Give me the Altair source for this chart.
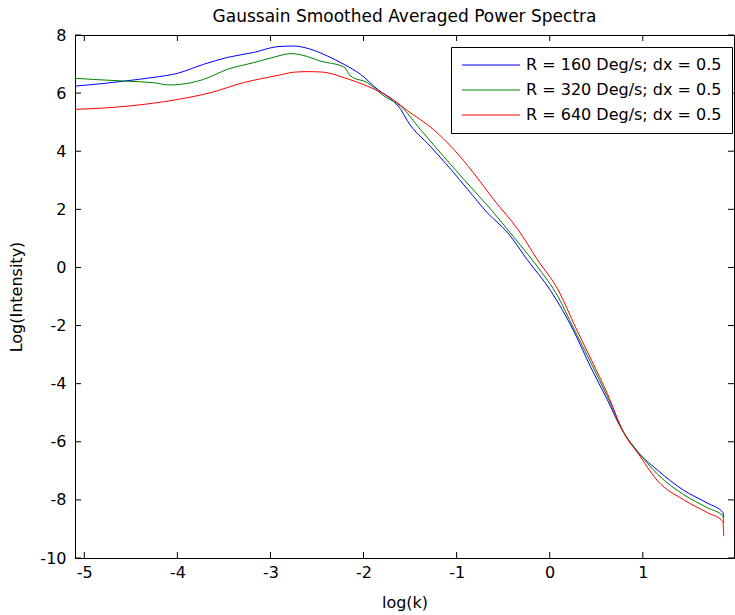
import altair as alt
import pandas as pd

# ---- data ----
labels = ["R = 160 Deg/s; dx = 0.5", "R = 320 Deg/s; dx = 0.5", "R = 640 Deg/s; dx = 0.5"]
colors = ["#0000ff", "#008000", "#ff0000"]

x_160 = [-5.10, -4.80, -4.58, -4.26, -4.00, -3.72, -3.46, -3.18, -2.92, -2.75, -2.57, -2.39,
         -2.21, -2.03, -1.85, -1.71, -1.60, -1.53, -1.28, -1.06, -0.88, -0.67, -0.45, -0.24,
         0.01, 0.26, 0.44, 0.62, 0.76, 0.90, 1.16, 1.44, 1.70, 1.86, 1.87]
y_160 = [6.24, 6.33, 6.41, 6.54, 6.68, 6.99, 7.23, 7.40, 7.60, 7.62, 7.51, 7.28,
         6.99, 6.64, 6.13, 5.80, 5.44, 5.05, 4.16, 3.37, 2.68, 1.88, 1.19, 0.26,
         -0.80, -2.20, -3.43, -4.56, -5.49, -6.18, -6.98, -7.67, -8.12, -8.43, -8.60]

x_320 = [-5.10, -4.90, -4.54, -4.26, -4.08, -3.97, -3.72, -3.46, -3.18, -2.97, -2.78, -2.65,
         -2.46, -2.21, -2.14, -1.96, -1.78, -1.60, -1.39, -1.14, -0.92, -0.63, -0.39, -0.13,
         0.09, 0.25, 0.45, 0.62, 0.80, 0.95, 1.16, 1.44, 1.70, 1.86, 1.87]
y_320 = [6.51, 6.47, 6.41, 6.36, 6.28, 6.30, 6.47, 6.82, 7.05, 7.23, 7.36, 7.30,
         7.10, 6.90, 6.59, 6.36, 5.90, 5.55, 4.75, 3.82, 3.02, 1.99, 1.06, 0.02,
         -1.01, -2.05, -3.33, -4.45, -5.70, -6.35, -7.12, -7.82, -8.28, -8.55, -8.79]

x_640 = [-5.10, -4.54, -4.00, -3.65, -3.29, -2.92, -2.75, -2.60, -2.43, -2.21, -1.96, -1.71,
         -1.53, -1.25, -1.03, -0.82, -0.60, -0.34, -0.13, 0.09, 0.28, 0.45, 0.62, 0.80,
         0.95, 1.16, 1.44, 1.70, 1.86, 1.87]
y_640 = [5.44, 5.55, 5.78, 6.01, 6.36, 6.61, 6.72, 6.74, 6.72, 6.53, 6.24, 5.84,
         5.40, 4.75, 4.06, 3.26, 2.33, 1.30, 0.26, -0.77, -2.08, -3.20, -4.35, -5.72,
         -6.40, -7.35, -8.00, -8.45, -8.74, -9.25]

x_ticks = [-5, -4, -3, -2, -1, 0, 1]
y_ticks = [-10, -8, -6, -4, -2, 0, 2, 4, 6, 8]

# ---- build tables ----
rows = []
for lab, xs, ys in zip(labels, [x_160, x_320, x_640], [y_160, y_320, y_640]):
    for i, (xv, yv) in enumerate(zip(xs, ys)):
        rows.append({"series": lab, "x": xv, "y": yv, "o": i})
df = pd.DataFrame(rows)
xt = pd.DataFrame({"v": x_ticks})
yt = pd.DataFrame({"v": y_ticks})

W, H = 659, 523
FONT = "DejaVu Sans"
xscale = alt.Scale(domain=[-5.1, 1.98], nice=False, zero=False)
yscale = alt.Scale(domain=[-10, 8], nice=False, zero=False)

lines = alt.Chart(df).mark_line(strokeWidth=1, clip=True, interpolate="monotone").encode(
    x=alt.X("x:Q", scale=xscale,
            axis=alt.Axis(title="log(k)", values=x_ticks, labelExpr="'' + datum.value",
                          ticks=False, grid=False,
                          labelPadding=6, titlePadding=14, domainColor="black")),
    y=alt.Y("y:Q", scale=yscale,
            axis=alt.Axis(title="Log(Intensity)", values=y_ticks, labelExpr="'' + datum.value",
                          ticks=False, grid=False, labelPadding=9, titlePadding=15,
                          domainColor="black")),
    color=alt.Color("series:N",
                    scale=alt.Scale(domain=labels, range=colors),
                    legend=alt.Legend(orient="none", legendX=376, legendY=12, title=None,
                                      symbolType="M-5,0H5", symbolSize=135,
                                      symbolStrokeWidth=1, symbolOffset=22, labelOffset=27,
                                      labelExpr="datum.label + '\u00a0\u00a0\u00a0'",
                                      labelFont=FONT, labelFontSize=16, labelColor="black",
                                      labelLimit=400, strokeColor="black", fillColor="white",
                                      padding=10, rowPadding=9, cornerRadius=0)),
    order="o:Q",
)

tick_len = 6
bottom_ticks = alt.Chart(xt).mark_rule(color="black", strokeWidth=1).encode(
    x=alt.X("v:Q", scale=xscale), y=alt.value(H), y2=alt.value(H - tick_len))
top_ticks = alt.Chart(xt).mark_rule(color="black", strokeWidth=1).encode(
    x=alt.X("v:Q", scale=xscale), y=alt.value(0), y2=alt.value(tick_len))
left_ticks = alt.Chart(yt).mark_rule(color="black", strokeWidth=1).encode(
    y=alt.Y("v:Q", scale=yscale), x=alt.value(0), x2=alt.value(tick_len))
right_ticks = alt.Chart(yt).mark_rule(color="black", strokeWidth=1).encode(
    y=alt.Y("v:Q", scale=yscale), x=alt.value(W), x2=alt.value(W - tick_len))

chart = alt.layer(lines, bottom_ticks, top_ticks, left_ticks, right_ticks).properties(
    width=W, height=H,
    background="white",
    title=alt.TitleParams("Gaussain Smoothed Averaged Power Spectra", font=FONT,
                          fontSize=17, fontWeight="normal", color="black",
                          anchor="middle", offset=1),
    padding={"left": 75, "top": 35, "right": 1, "bottom": 57},
    autosize=alt.AutoSizeParams(type="none"),
).configure_view(stroke="black", strokeWidth=1).configure_axis(
    labelFont=FONT, labelFontSize=16, labelColor="black",
    titleFont=FONT, titleFontSize=16, titleFontWeight="normal", titleColor="black",
    domainWidth=1,
)

chart.save("out.html", embed_options={"renderer": "svg", "actions": False})
